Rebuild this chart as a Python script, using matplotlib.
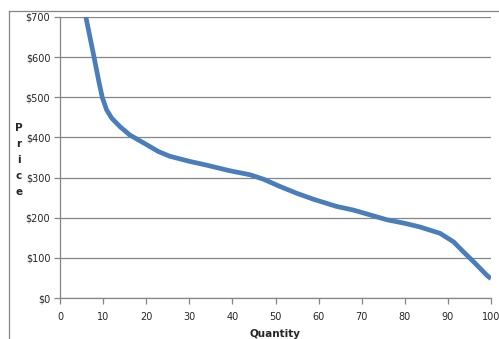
import matplotlib
matplotlib.use("Agg")
import matplotlib.pyplot as plt
from matplotlib.lines import Line2D

# values
quantity = [6.0, 7.9, 9.0, 9.8, 10.8, 12.0, 13.9, 16.2, 20.1, 22.8, 25.5,
            30.2, 34.0, 39.4, 44.1, 47.2, 51.0, 54.9, 58.8, 64.2, 68.1, 75.8,
            80.0, 83.5, 88.2, 91.3, 93.6, 95.9, 99.0, 100.0]
price = [700, 600, 540, 500, 469, 448, 427, 406, 382, 365, 353,
         340, 331, 317, 307, 296, 278, 261, 246, 228, 219, 195,
         186, 177, 161, 140, 115, 91, 57, 48]

x_ticks = list(range(0, 101, 10))
y_ticks = list(range(0, 701, 100))
y_labels = ["$" + str(v) for v in y_ticks]

grey = "#868686"
text_col = "#262626"

fig = plt.figure(figsize=(4.99, 3.39), dpi=100)
ax = fig.add_axes([60 / 499, 1 - 298 / 339, 431 / 499, 281 / 339])

ax.plot(quantity, price, color="#4a7ebb", lw=3.4, solid_capstyle="butt",
        solid_joinstyle="round", clip_on=True, zorder=3)

ax.set_xlim(0, 100)
ax.set_ylim(0, 700)
ax.set_xticks(x_ticks)
ax.set_yticks(y_ticks)
ax.set_yticklabels(y_labels)
ax.grid(axis="y", color=grey, lw=0.9)
ax.set_axisbelow(True)
for s in ["top", "right"]:
    ax.spines[s].set_visible(False)
for s in ["left", "bottom"]:
    ax.spines[s].set_color(grey)
    ax.spines[s].set_linewidth(0.9)
ax.tick_params(colors=grey, labelcolor=text_col, labelsize=7, length=4,
               width=0.9, direction="out")
ax.tick_params(axis="x", pad=6)
ax.tick_params(axis="y", pad=3)

fig.text(19 / 499, 1 - 160 / 339, "P\nr\ni\nc\ne", ha="center", va="center",
         fontsize=7.5, fontweight="bold", color=text_col, linespacing=1.75)
fig.text(275 / 499, 1 - 334 / 339, "Quantity", ha="center", va="center",
         fontsize=7.5, fontweight="bold", color=text_col)

# outer chart border (cropped)
fig.add_artist(Line2D([8.5 / 499, 8.5 / 499], [0, 1 - 10.5 / 339], color=grey, lw=0.9))
fig.add_artist(Line2D([8.5 / 499, 1], [1 - 10.5 / 339, 1 - 10.5 / 339], color=grey, lw=0.9))

fig.savefig("out.png", dpi=100)
